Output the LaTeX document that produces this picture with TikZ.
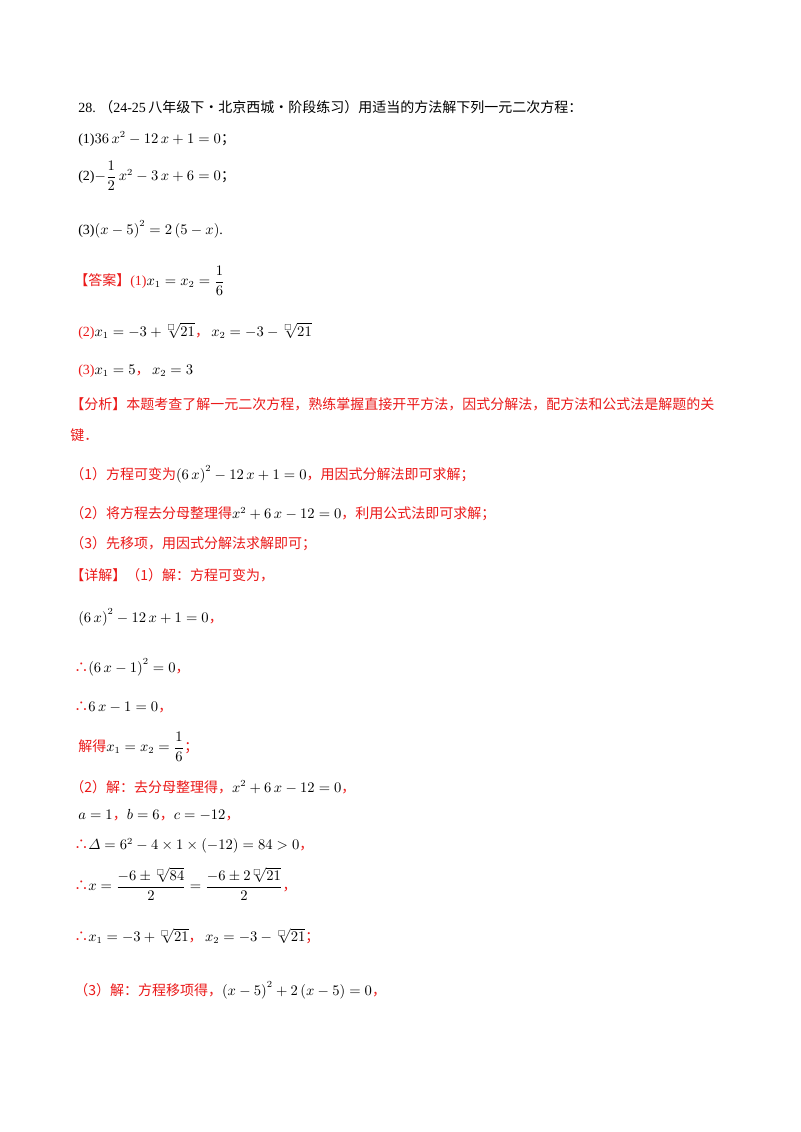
\documentclass[tikz,border=0pt]{standalone}
\usepackage{amsmath,amssymb}
\usepackage{fontspec}
\setmainfont{Liberation Serif}
\newfontfamily\cjk{Noto Sans CJK SC}
\definecolor{myred}{RGB}{235,25,25}
\newcommand{\C}[1]{{\cjk #1}}
\newcommand{\R}[1]{\textcolor{myred}{#1}}
\newcommand{\RC}[1]{\textcolor{myred}{\cjk #1}}
\newcommand{\bx}[1]{\,{}^{\scriptscriptstyle\square}\!\!\!\sqrt{#1}}
\newcommand{\tf}{\textcolor{myred}{\cjk ∴}}
\begin{document}
\begin{tikzpicture}[x=0.75pt,y=-0.75pt,
  t/.style={anchor=west,inner sep=0pt,font=\fontsize{10.5}{12}\selectfont}]
\useasboundingbox (0,0) rectangle (800,1132);
\fill[white] (0,0) rectangle (800,1132);
\node[t] (l1) at (78,107) {28.\ \C{（}24-25\,\C{八年级下·北京西城·阶段练习）用适当的方法解下列一元二次方程：}};
\node[t] (l2) at (78,139) {(1)$36\,x^2-12\,x+1=0$\C{；}};
\node[t] (l3) at (78,176) {(2)$-\dfrac12\,x^2-3\,x+6=0$\C{；}};
\node[t] (l4) at (78,229) {(3)$\left(x-5\right)^2=2\left(5-x\right)$.};
\node[t] (l5) at (74,281) {\RC{【答案】}\R{(1)}$x_1=x_2=\dfrac16$};
\node[t] (l6) at (78,331) {\R{(2)}$x_1=-3+\bx{21}$\RC{，}\,$x_2=-3-\bx{21}$};
\node[t] (l7) at (78,371) {\R{(3)}$x_1=5$\RC{，}\,$x_2=3$};
\node[t] (l8) at (70,404) {\RC{【分析】本题考查了解一元二次方程，熟练掌握直接开平方法，因式分解法，配方法和公式法是解题的关}};
\node[t] (l9) at (70,435) {\RC{键．}};
\node[t] (l10) at (70,474) {\RC{（1）方程可变为}$\left(6\,x\right)^2-12\,x+1=0$\RC{，用因式分解法即可求解；}};
\node[t] (l11) at (70,514) {\RC{（2）将方程去分母整理得}$x^2+6\,x-12=0$\RC{，利用公式法即可求解；}};
\node[t] (l12) at (70,544) {\RC{（3）先移项，用因式分解法求解即可；}};
\node[t] (l13) at (70,575) {\RC{【详解】（1）解：方程可变为，}};
\node[t] (l14) at (78,617) {$\left(6\,x\right)^2-12\,x+1=0$\RC{，}};
\node[t] (l15) at (74,667) {\tf$\left(6\,x-1\right)^2=0$\RC{，}};
\node[t] (l16) at (74,707) {\tf$6\,x-1=0$\RC{，}};
\node[t] (l17) at (78,747) {\RC{解得}$x_1=x_2=\dfrac16$\RC{；}};
\node[t] (l18) at (70,787) {\RC{（2）解：去分母整理得，}$x^2+6\,x-12=0$\RC{，}};
\node[t] (l19) at (78,815) {$a=1$\RC{，}$b=6$\RC{，}$c=-12$\RC{，}};
\node[t] (l20) at (74,846) {\tf$\varDelta=6^2-4\times1\times\left(-12\right)=84>0$\RC{，}};
\node[t] (l21) at (74,884) {\tf$x=\dfrac{-6\pm\bx{84}}{2}=\dfrac{-6\pm2\bx{21}}{2}$\RC{，}};
\node[t] (l22) at (74,936) {\tf$x_1=-3+\bx{21}$\RC{，}\,$x_2=-3-\bx{21}$\RC{；}};
\node[t] (l23) at (74,990) {\RC{（3）解：方程移项得，}$\left(x-5\right)^2+2\left(x-5\right)=0$\RC{，}};
\end{tikzpicture}
\end{document}
